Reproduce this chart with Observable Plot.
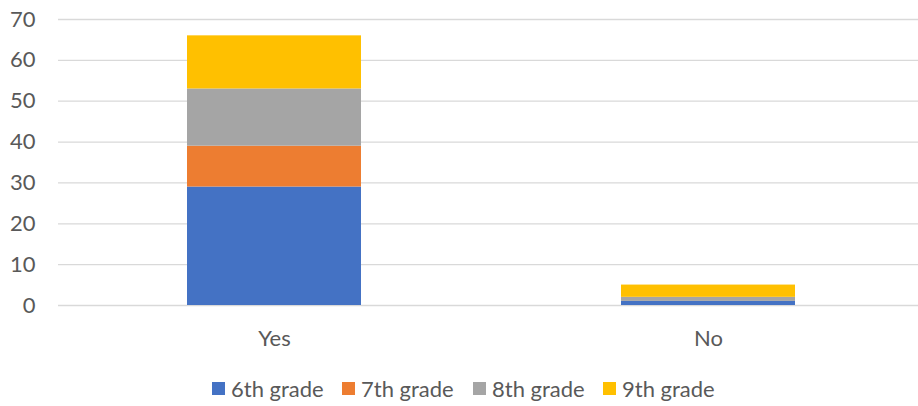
<!DOCTYPE html>
<html>
<head>
<meta charset="utf-8">
<script src="https://cdn.jsdelivr.net/npm/d3@7"></script>
<script src="https://cdn.jsdelivr.net/npm/@observablehq/plot@0.6"></script>
<style>
  html, body { margin: 0; padding: 0; background: #fff; }
  #chart { width: 918px; }
  .legend { position: relative; height: 26px; margin-top: 20px; font-family: Lato, sans-serif; font-size: 22px; color: #595959; }
  .item { position: absolute; top: 0; display: flex; align-items: center; height: 26px; white-space: nowrap; }
  .sw { width: 13px; height: 13px; margin-right: 6px; }
</style>
</head>
<body>
<div id="chart"></div>
<script>
const categories = ["Yes", "No"];
const grades = ["6th grade", "7th grade", "8th grade", "9th grade"];
const sixth = [29, 1];
const seventh = [10, 0];
const eighth = [14, 1];
const ninth = [13, 3];
const colors = ["#4472C4", "#ED7D31", "#A5A5A5", "#FFC000"];
const yTicks = [0, 10, 20, 30, 40, 50, 60, 70];

const series = [sixth, seventh, eighth, ninth];
const data = [];
grades.forEach((g, i) => categories.forEach((c, j) => data.push({answer: c, grade: g, value: series[i][j]})));

const plot = Plot.plot({
  width: 918,
  height: 355,
  marginLeft: 58,
  marginRight: 0,
  marginTop: 19,
  marginBottom: 50,
  style: {fontFamily: "Lato, sans-serif", fontSize: "22px", color: "#595959", background: "#fff"},
  x: {type: "band", domain: categories, range: [57, 925], paddingInner: 0.6, paddingOuter: 0.3, label: null},
  y: {domain: [0, 70], label: null},
  color: {domain: grades, range: colors},
  marks: [
    Plot.ruleY(yTicks, {stroke: "#d9d9d9", strokeWidth: 1.3}),
    Plot.barY(data, {x: "answer", y: "value", fill: "grade"}),
    Plot.axisY({ticks: yTicks, tickSize: 0, tickPadding: 23, label: null}),
    Plot.axisX({tickSize: 0, tickPadding: 25, label: null})
  ]
});
document.getElementById("chart").appendChild(plot);

const legend = document.createElement("div");
legend.className = "legend";
const starts = [212, 342, 473, 603];
grades.forEach((g, i) => {
  const it = document.createElement("div");
  it.className = "item";
  it.style.left = starts[i] + "px";
  const sw = document.createElement("div");
  sw.className = "sw";
  sw.style.background = colors[i];
  const t = document.createElement("span");
  t.textContent = g;
  it.appendChild(sw);
  it.appendChild(t);
  legend.appendChild(it);
});
document.getElementById("chart").appendChild(legend);
</script>
</body>
</html>
